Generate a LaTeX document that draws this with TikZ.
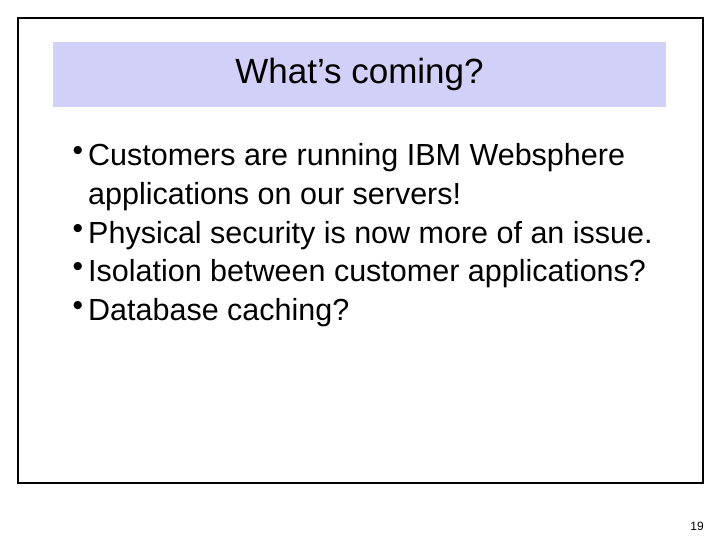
\documentclass[tikz,border=0pt]{standalone}
\usepackage{fontspec}
\setmainfont{Liberation Sans}
\definecolor{titlebg}{RGB}{208,208,248}
\begin{document}
\begin{tikzpicture}[x=1pt,y=-1pt,
  txt/.style={anchor=west,inner sep=0pt,font=\fontsize{30.5}{34}\selectfont},
  bul/.style={anchor=center,inner sep=0pt,font=\fontsize{30}{34}\selectfont}]
\useasboundingbox (0,0) rectangle (720,540);
\node[draw=black,line width=2pt,minimum width=685pt,minimum height=465pt,inner sep=0pt] (frame) at (360.5,250.5) {};
\node[fill=titlebg,minimum width=613pt,minimum height=65pt,inner sep=0pt] (title) at (359.5,74.5) {};
\node[inner sep=0pt,font=\fontsize{35}{40}\selectfont] (tt) at (title.center) {What’s coming?};
\node[bul] (b1) at (78,153) {•};
\node[txt] (t1) at (88,158) {Customers are running IBM Websphere};
\node[txt] (t1b) at (88,197) {applications on our servers!};
\node[bul] (b2) at (78,231) {•};
\node[txt] (t2) at (88,236) {Physical security is now more of an issue.};
\node[bul] (b3) at (78,269) {•};
\node[txt] (t3) at (88,274) {Isolation between customer applications?};
\node[bul] (b4) at (78,308) {•};
\node[txt] (t4) at (88,313) {Database caching?};
\node[inner sep=0pt,font=\fontsize{12}{14}\selectfont] (pg) at (697,526) {19};
\end{tikzpicture}
\end{document}
